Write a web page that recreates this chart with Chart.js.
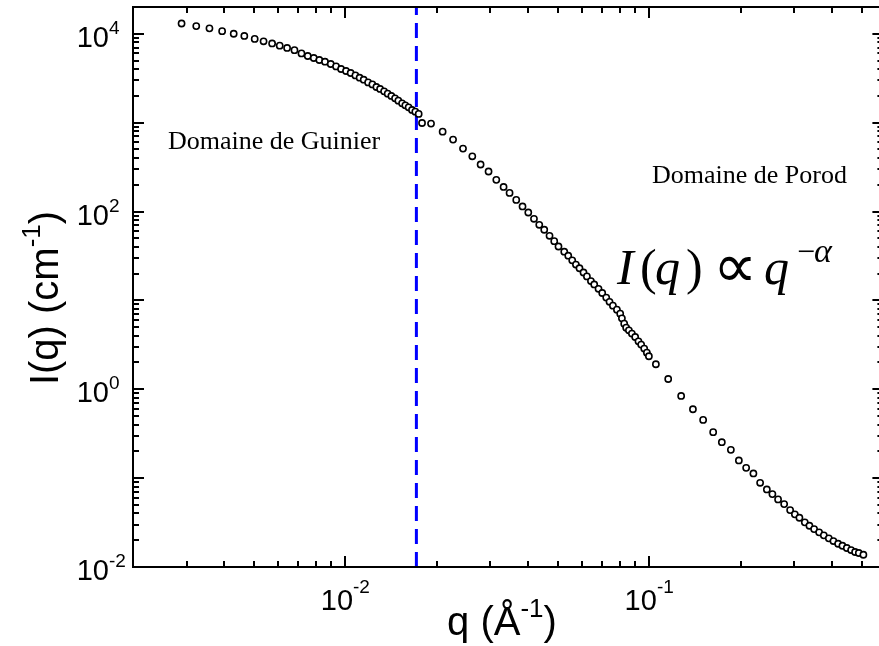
<!DOCTYPE html>
<html>
<head>
<meta charset="utf-8">
<script src="https://cdn.jsdelivr.net/npm/chart.js@4.4.1/dist/chart.umd.min.js"></script>
<style>
  html, body { margin: 0; padding: 0; background: #fff; overflow: hidden; }
  canvas { display: block; }
</style>
</head>
<body>
<!-- le cadre déborde à droite comme sur la figure d'origine -->
<canvas id="grafico" width="889" height="646"></canvas>
<script>
// ========================
// Données
// ========================
// configuration petits angles
const qPetits = [0.00289, 0.00323, 0.00357, 0.00393, 0.00429, 0.00465, 0.00503, 0.00538, 0.00574, 0.00608,
  0.00643, 0.00680, 0.00717, 0.00752, 0.00787, 0.00821, 0.00857, 0.00895, 0.00932, 0.00968,
  0.01005, 0.01041, 0.01079, 0.01114, 0.01149, 0.01188, 0.01227, 0.01265, 0.01301, 0.01341,
  0.01378, 0.01417, 0.01457, 0.01494, 0.01537, 0.01575, 0.01615, 0.01657, 0.01699, 0.01743];
const iPetits = [13050, 12200, 11500, 10700, 10000, 9450, 8750, 8220, 7780, 7350,
  6920, 6540, 6008, 5616, 5333, 5063, 4846, 4566, 4292, 4013,
  3811, 3618, 3401, 3203, 3042, 2837, 2694, 2518, 2392, 2248,
  2118, 1995, 1875, 1767, 1648, 1565, 1486, 1389, 1329, 1253];

// configuration angles moyens
const qMoyens = [0.01788, 0.01914, 0.02090, 0.02262, 0.02439, 0.02617, 0.02787, 0.02960, 0.03139, 0.03317,
  0.03471, 0.03651, 0.03829, 0.04000, 0.04176, 0.04347, 0.04514, 0.04699, 0.04869, 0.05029,
  0.05253, 0.05415, 0.05580, 0.05739, 0.05897, 0.06079, 0.06238, 0.06430, 0.06593, 0.06811,
  0.07005, 0.07221, 0.07403, 0.07596, 0.07830, 0.08028, 0.08132, 0.08275, 0.08400, 0.08574,
  0.08771, 0.08992, 0.09220, 0.09410, 0.09630, 0.09826, 0.09977];
const iMoyens = [990, 975, 792, 644, 510, 418, 338, 282, 227, 189,
  162, 135, 114, 97.4, 82.8, 70.9, 62.3, 53.3, 46.4, 40.4,
  35.3, 31.8, 28.2, 25.3, 23.0, 20.6, 18.6, 16.5, 15.1, 13.5,
  12.1, 10.75, 9.64, 8.72, 7.86, 7.09, 6.28, 5.47, 4.93, 4.60,
  4.23, 3.87, 3.46, 3.18, 2.87, 2.58, 2.35];

// configuration grands angles
const qGrands = [0.1052, 0.1155, 0.1274, 0.1393, 0.1505, 0.1624, 0.1734, 0.1857, 0.1973, 0.2085,
  0.2203, 0.2318, 0.2439, 0.2544, 0.2656, 0.2781, 0.2910, 0.3016, 0.3122, 0.3252,
  0.3368, 0.3490, 0.3625, 0.3756, 0.3901, 0.4040, 0.4186, 0.4325, 0.4471, 0.4619,
  0.4761, 0.4896, 0.5070];
const iGrands = [1.910, 1.305, 0.841, 0.596, 0.452, 0.329, 0.2538, 0.208, 0.158, 0.1305,
  0.1129, 0.0886, 0.0746, 0.0661, 0.0576, 0.0510, 0.0437, 0.0391, 0.0358, 0.0318,
  0.0291, 0.0267, 0.02454, 0.02271, 0.02101, 0.01959, 0.01827, 0.01735, 0.01635, 0.01552,
  0.01474, 0.01437, 0.01374];

// limite Guinier / Porod
const qLimite = 0.01713;

// axes
const xDecades = [-3, -2, -1, 0];
const xLabels = [-2, -1];
const yDecades = [-2, -1, 0, 1, 2, 3, 4];
const yLabels = [4, 2, 0, -2];

const SANS = '"Liberation Sans", Arial, sans-serif';
const SERIF = '"Liberation Serif", "Times New Roman", serif';

function points(qs, is) {
  return qs.map((q, k) => ({ x: q, y: is[k] }));
}
const mesures = points(qPetits, iPetits).concat(points(qMoyens, iMoyens), points(qGrands, iGrands));

// ========================
// Texte avec exposant
// ========================
function ecrireExposant(ctx, x, y, base, exp, taille, tailleExp, decal, align) {
  ctx.font = taille + 'px ' + SANS;
  const wb = ctx.measureText(base).width;
  ctx.font = tailleExp + 'px ' + SANS;
  const we = ctx.measureText(exp).width;
  let x0 = x;
  if (align === 'center') x0 = x - (wb + we) / 2;
  ctx.textAlign = 'left';
  ctx.textBaseline = 'alphabetic';
  ctx.font = taille + 'px ' + SANS;
  ctx.fillText(base, x0, y);
  ctx.font = tailleExp + 'px ' + SANS;
  ctx.fillText(exp, x0 + wb, y - decal);
  return x0 + wb + we;
}

// titre d'axe "texte^-1)" centré sur (0,0)
function titreAxe(ctx, avant, taille) {
  const tExp = Math.round(taille * 0.66);
  ctx.font = taille + 'px ' + SANS;
  const w1 = ctx.measureText(avant).width, w3 = ctx.measureText(')').width;
  ctx.font = tExp + 'px ' + SANS;
  const w2 = ctx.measureText('-1').width;
  const fin = ecrireExposant(ctx, -(w1 + w2 + w3) / 2, 0, avant, '-1', taille, tExp, taille * 0.44, 'left');
  ctx.font = taille + 'px ' + SANS;
  ctx.fillText(')', fin, 0);
}

// ========================
// Cadre, graduations et textes
// ========================
const cadre = {
  id: 'cadre',
  afterDatasetsDraw(chart) {
    const ctx = chart.ctx;
    const a = chart.chartArea;
    const sx = chart.scales.x;
    const sy = chart.scales.y;
    ctx.save();
    ctx.strokeStyle = '#000';
    ctx.fillStyle = '#000';
    ctx.lineWidth = 2;

    ctx.beginPath();
    ctx.moveTo(a.right, a.top);
    ctx.lineTo(a.left, a.top);
    ctx.lineTo(a.left, a.bottom);
    ctx.lineTo(a.right, a.bottom);
    ctx.lineTo(a.right, a.top);
    ctx.stroke();

    // graduations x
    xDecades.forEach(e => {
      for (let m = 1; m <= 9; m++) {
        const v = m * Math.pow(10, e);
        if (v < sx.min || v > sx.max) continue;
        const px = Math.round(sx.getPixelForValue(v));
        const len = m === 1 ? 11 : 6;
        ctx.beginPath();
        ctx.moveTo(px, a.bottom); ctx.lineTo(px, a.bottom - len);
        ctx.moveTo(px, a.top); ctx.lineTo(px, a.top + len);
        ctx.stroke();
      }
    });
    // graduations y
    yDecades.forEach(e => {
      for (let m = 1; m <= 9; m++) {
        const v = m * Math.pow(10, e);
        if (v < sy.min || v > sy.max) continue;
        const py = Math.round(sy.getPixelForValue(v));
        const len = m === 1 ? 11 : 6;
        ctx.beginPath();
        ctx.moveTo(a.left, py); ctx.lineTo(a.left + len, py);
        ctx.moveTo(a.right, py); ctx.lineTo(a.right - len, py);
        ctx.stroke();
      }
    });

    // étiquettes
    xLabels.forEach(e => {
      const px = sx.getPixelForValue(Math.pow(10, e));
      ecrireExposant(ctx, px, a.bottom + 43, '10', String(e), 29, 19, 17, 'center');
    });
    yLabels.forEach(e => {
      const py = sy.getPixelForValue(Math.pow(10, e));
      ctx.font = '29px ' + SANS;
      const wb = ctx.measureText('10').width;
      ecrireExposant(ctx, 109 - wb, py + 13, '10', String(e), 29, 19, 13, 'left');
    });

    // titres des axes
    ctx.save();
    ctx.translate(502, 635);
    titreAxe(ctx, 'q (Å', 40);
    ctx.restore();

    ctx.save();
    ctx.translate(58, 298);
    ctx.rotate(-Math.PI / 2);
    titreAxe(ctx, 'I(q) (cm', 40);
    ctx.restore();

    // annotations
    ctx.textAlign = 'left';
    ctx.font = '26px ' + SERIF;
    ctx.fillText('Domaine de Guinier', 168, 149);
    ctx.fillText('Domaine de Porod', 652, 183);

    // I(q) ∝ q^-α
    const italique = 'italic 50px ' + SERIF;
    const droit = '50px ' + SERIF;
    ctx.font = italique; ctx.fillText('I', 617, 284);
    ctx.font = droit; ctx.fillText('(', 640, 284);
    ctx.font = italique; ctx.fillText('q', 655, 284);
    ctx.font = droit; ctx.fillText(')', 686, 284);
    ctx.font = '62px ' + SERIF; ctx.fillText('\u221D', 713, 287);
    ctx.font = italique; ctx.fillText('q', 764, 284);
    ctx.font = '32px ' + SERIF; ctx.fillText('\u2212', 797, 262);
    ctx.font = 'italic 34px ' + SERIF; ctx.fillText('\u03B1', 814, 262);

    ctx.restore();
  }
};

// ========================
// Graphique
// ========================
const ctx = document.getElementById('grafico').getContext('2d');
new Chart(ctx, {
  type: 'scatter',
  data: {
    datasets: [
      {
        label: 'I(q)',
        data: mesures,
        pointStyle: 'circle',
        pointRadius: 3.1,
        pointBorderWidth: 1.6,
        pointBorderColor: '#000',
        pointBackgroundColor: '#fff',
        showLine: false,
        order: 0
      },
      {
        type: 'line',
        label: 'limite',
        data: [{ x: qLimite, y: 0.01 }, { x: qLimite, y: 2e4 }],
        borderColor: '#0000ff',
        borderWidth: 3,
        borderDash: [15, 8],
        pointRadius: 0,
        fill: false,
        order: 1
      }
    ]
  },
  options: {
    responsive: false,
    animation: false,
    events: [],
    layout: { padding: { left: 133, top: 7, right: 5, bottom: 79 } },
    plugins: { legend: { display: false }, tooltip: { enabled: false } },
    scales: {
      x: { type: 'logarithmic', min: 0.002, max: 0.59, display: false },
      y: { type: 'logarithmic', min: 0.01, max: 2e4, display: false }
    }
  },
  plugins: [cadre]
});
</script>
</body>
</html>
